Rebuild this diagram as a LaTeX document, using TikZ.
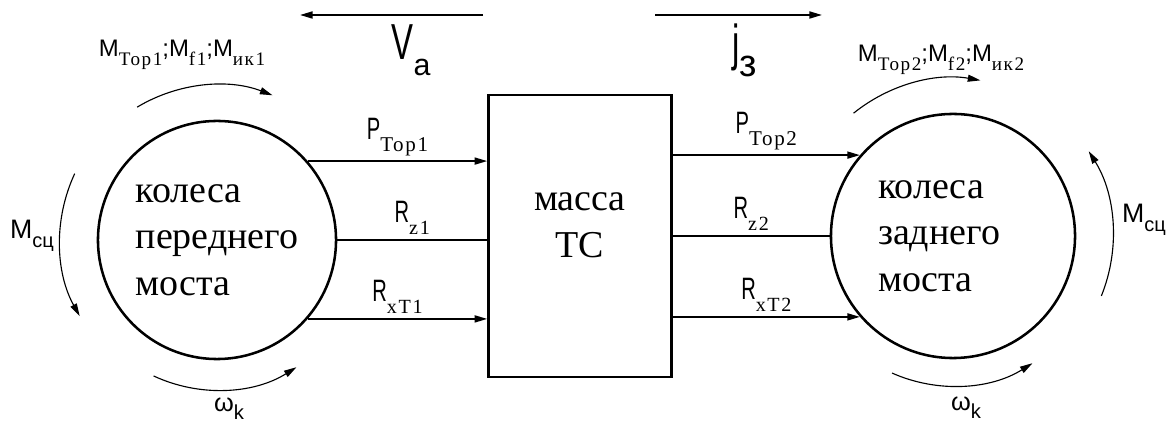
\documentclass[tikz,border=0pt]{standalone}
\usepackage{fontspec}
\usepackage{graphicx}
\setmainfont{Liberation Serif}
\setsansfont{Liberation Sans}
\usetikzlibrary{arrows.meta,calc,positioning}
\newcommand\lsub[2][.7]{\raisebox{-.75ex}{\scalebox{#1}{\rmfamily\addfontfeature{LetterSpace=8}#2}}}
\newcommand\ssub[2][.7]{\raisebox{-.6ex}{\scalebox{#1}{#2}}}
\newcommand\nar[1]{\scalebox{.65}[1]{#1}}

\begin{document}
\begin{tikzpicture}[x=0.025cm,y=0.025cm,line width=1.2pt,
  arr/.style={-{Triangle[length=9pt,width=5pt]}},
  turn/.style={line width=.8pt,-{Triangle[length=9pt,width=5pt]}},
  wheel/.style={circle,draw,line width=1.8pt,align=left,inner sep=0pt,font=\fontsize{27}{33}\selectfont},
  mass/.style={rectangle,draw,line width=1.8pt,minimum width=4.575cm,minimum height=7.05cm,align=center,text depth=.55cm,font=\fontsize{27}{33}\selectfont},
  lbl/.style={font=\sffamily\fontsize{17}{19}\selectfont,inner sep=0pt},
  flbl/.style={font=\sffamily\fontsize{22}{24}\selectfont,inner sep=3pt},
  big/.style={font=\sffamily\fontsize{36}{38}\selectfont,inner sep=0pt}]
\useasboundingbox (0,0) rectangle (1173,427);
% wheels and vehicle mass
\node[wheel,minimum size=5.95cm] (w1) at (217,187) {колеса\\переднего\\моста};
\node[wheel,minimum size=6.1cm] (w2) at (953,191) {колеса\\заднего\rule{.7cm}{0pt}\\моста};
\node[mass] (box) at (580,191) {масса\\ТС};
% forces, front axle
\draw[arr] (w1.41) -- (w1.41 -| box.west) node[midway,above,flbl] {\nar{P}\lsub[.68]{Тор1}};
\draw (w1.east) -- (w1.east -| box.west) node[midway,above,flbl] {\nar{R}\lsub[.65]{z1}};
\draw[arr] (w1.-41) -- (w1.-41 -| box.west) node[midway,above,flbl] {\nar{R}\lsub[.65]{xT1}};
% forces, rear axle
\draw[arr] (w2.139 -| box.east) -- (w2.139) node[midway,above,flbl] {\nar{P}\lsub[.68]{Тор2}};
\draw (box.east |- w2.west) -- (w2.west) node[midway,above,flbl] {\nar{R}\lsub[.65]{z2}};
\draw[arr] (w2.221 -| box.east) -- (w2.221) node[midway,above,flbl] {\nar{R}\lsub[.65]{xT2}};
% speed and acceleration
\coordinate (va1) at (483,412);
\coordinate (va2) at (300,412);
\coordinate (ja1) at (655,412);
\coordinate (ja2) at (822,412);
\draw[arr] (va1) -- (va2);
\draw[arr] (ja1) -- (ja2);
\node[big] (va) at (411,377) {\nar{V}\ssub[.6]{a}};
\node[big] (ja) at (745,377) {\nar{j}\ssub[.75]{з}};
% moments
\draw[turn] ($(w1)+(121:155)$) arc[start angle=121,end angle=69,radius=155];
\draw[turn] ($(w2)+(129:158)$) arc[start angle=129,end angle=80,radius=158];
\draw[turn] ($(w1)+(155:157)$) arc[start angle=155,end angle=209,radius=157];
\draw[turn] ($(w2)+(-22:160)$) arc[start angle=-22,end angle=32,radius=160];
\draw[turn] ($(w1)+(-115:150)$) arc[start angle=-115,end angle=-58,radius=150];
\draw[turn] ($(w2)+(-114:150)$) arc[start angle=-114,end angle=-58,radius=150];
\node[lbl] (m1) at (182,372) {M\lsub[.8]{Тор1};M\lsub[.8]{f1};M\lsub[.8]{ик1}};
\node[lbl] (m2) at (941,367) {M\lsub[.8]{Тор2};M\lsub[.8]{f2};M\lsub[.8]{ик2}};
\node[lbl,font=\sffamily\fontsize{19}{21}\selectfont] (c1) at (32,191) {M\ssub[.75]{сц}};
\node[lbl,font=\sffamily\fontsize{19}{21}\selectfont] (c2) at (1144,207) {M\ssub[.75]{сц}};
\node[lbl,font=\sffamily\fontsize{18}{20}\selectfont] (o1) at (229,18) {ω\ssub[.8]{k}};
\node[lbl,font=\sffamily\fontsize{18}{20}\selectfont] (o2) at (966,19) {ω\ssub[.8]{k}};
\end{tikzpicture}
\end{document}
